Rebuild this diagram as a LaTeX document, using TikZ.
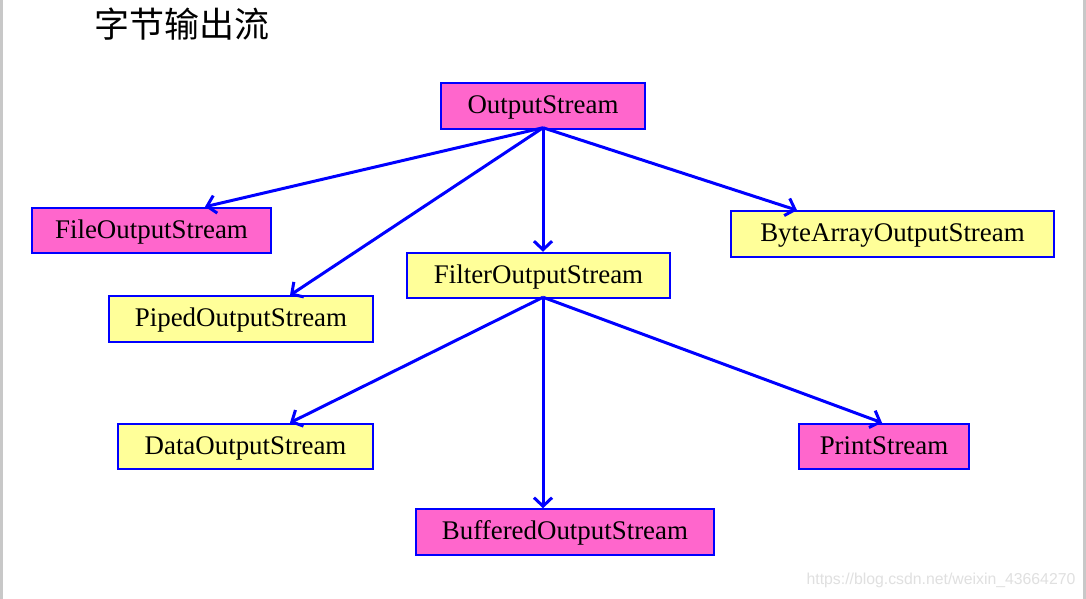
\documentclass[tikz,border=0pt]{standalone}
\usepackage{fontspec}
\setmainfont{Liberation Serif}
\newfontfamily\cjk{Noto Sans CJK SC}
\newfontfamily\wmfont{Liberation Sans}
\usetikzlibrary{arrows.meta}
\definecolor{boxpink}{HTML}{FF66CC}
\definecolor{boxyellow}{HTML}{FFFF99}
\definecolor{edgeblue}{HTML}{0000FF}
\definecolor{framegray}{HTML}{C8C8C8}
\definecolor{wmgray}{HTML}{E0E0E0}
\tikzset{
  cls/.style={draw=edgeblue, line width=2pt, inner sep=0pt, minimum height=45.5pt,
    text height=20pt, text depth=5pt,
    font=\fontsize{26.9}{30}\selectfont, text=black},
  pinkbox/.style={cls, fill=boxpink},
  yellowbox/.style={cls, fill=boxyellow},
  inherit/.style={draw=edgeblue, line width=3pt, -{Straight Barb[length=8.5pt,width=18pt,line width=3pt]}},
}
\begin{document}
\begin{tikzpicture}[x=1pt,y=-1pt]
\useasboundingbox (0,0) rectangle (1086,599);
\fill[white] (0,0) rectangle (1086,599);
\fill[framegray] (0,0) rectangle (3,599);
\fill[framegray] (1083,0) rectangle (1086,599);

\node[font=\cjk\fontsize{35}{38}\selectfont, anchor=center] (title) at (181.5,24) {字节输出流};

\node[pinkbox, minimum width=204pt] (os) at (543,106) {OutputStream};
\node[pinkbox, minimum width=239pt] (fos) at (151.5,230.5) {FileOutputStream};
\node[yellowbox, minimum width=323pt] (baos) at (892.5,234) {ByteArrayOutputStream};
\node[yellowbox, minimum width=263pt] (filt) at (538.5,275.5) {FilterOutputStream};
\node[yellowbox, minimum width=264pt] (pos) at (241,319) {PipedOutputStream};
\node[yellowbox, minimum width=255pt] (dos) at (245.5,446.5) {DataOutputStream};
\node[pinkbox, minimum width=170pt] (ps) at (884,446.5) {PrintStream};
\node[pinkbox, minimum width=298pt] (bos) at (565,532) {BufferedOutputStream};

\draw[inherit] ([yshift=2pt]os.south) -- ([xshift=53.5pt]fos.north);
\draw[inherit] ([yshift=2pt]os.south) -- ([xshift=49pt]pos.north);
\draw[inherit] ([yshift=2pt]os.south) -- ([xshift=4.5pt]filt.north);
\draw[inherit] ([yshift=2pt]os.south) -- ([xshift=-95.5pt]baos.north);
\draw[inherit] ([xshift=4.5pt,yshift=2pt]filt.south) -- ([xshift=44.5pt]dos.north);
\draw[inherit] ([xshift=4.5pt,yshift=2pt]filt.south) -- ([xshift=-22pt]bos.north);
\draw[inherit] ([xshift=4.5pt,yshift=2pt]filt.south) -- ([xshift=-2pt]ps.north);

\node[font=\wmfont\fontsize{15.8}{17}\selectfont, text=wmgray] (wm) at (941,580) {https://blog.csdn.net/weixin\_43664270};
\end{tikzpicture}
\end{document}
